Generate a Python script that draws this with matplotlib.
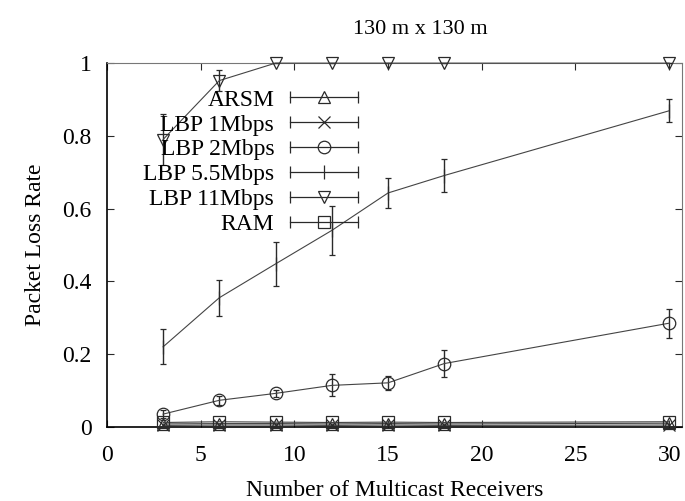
import matplotlib
matplotlib.use('Agg')
import matplotlib.pyplot as plt
from matplotlib.lines import Line2D
from matplotlib.legend_handler import HandlerLine2D, HandlerTuple

plt.rcParams['font.family'] = ['Liberation Serif', 'DejaVu Serif']
plt.rcParams['font.size'] = 17

receivers = [3, 6, 9, 12, 15, 18, 30]

arsm = [0.008, 0.009, 0.009, 0.008, 0.009, 0.008, 0.010]
lbp1 = [0.004, 0.005, 0.005, 0.004, 0.005, 0.004, 0.005]
lbp2 = [0.035, 0.073, 0.092, 0.114, 0.121, 0.174, 0.285]
lbp2_err = [0.010, 0.012, 0.010, 0.030, 0.020, 0.036, 0.040]
lbp55 = [0.220, 0.355, 0.448, 0.540, 0.643, 0.691, 0.869]
lbp55_err = [0.048, 0.050, 0.060, 0.068, 0.040, 0.045, 0.031]
lbp11 = [0.790, 0.952, 1.000, 1.000, 1.000, 1.000, 1.000]
lbp11_err = [0.070, 0.030, 0.000, 0.000, 0.000, 0.000, 0.000]
ram = [0.012, 0.014, 0.013, 0.012, 0.013, 0.012, 0.014]

labels = ['ARSM', 'LBP 1Mbps', 'LBP 2Mbps', 'LBP 5.5Mbps', 'LBP 11Mbps', 'RAM']
markers = ['^', 'x', 'o', '|', 'v', 's']
series = [arsm, lbp1, lbp2, lbp55, lbp11, ram]
errors = [None, None, lbp2_err, lbp55_err, lbp11_err, None]

ink = '#2a2a2a'
line_ink = '#444444'

fig = plt.figure(figsize=(6.85, 5.01), dpi=100)
ax = fig.add_axes([0.156, 0.148, 0.84, 0.726])

for y, err, m in zip(series, errors, markers):
    ax.errorbar(receivers, y, yerr=err, color=line_ink, lw=0.8, marker=m,
                markersize=9 if m != '|' else 10, mfc='none', mec=ink, mew=0.9,
                capsize=2.5, elinewidth=1.0, ecolor=ink, clip_on=False, zorder=3)

ax.set_xlim(0, 30.7)
ax.set_ylim(0, 1)
ax.set_xticks([0, 5, 10, 15, 20, 25, 30])
ax.set_yticks([0, 0.2, 0.4, 0.6, 0.8, 1])
ax.set_yticklabels(['0', '0.2', '0.4', '0.6', '0.8', '1'])
ax.tick_params(direction='in', top=True, right=True, length=5, width=0.8,
               pad=11, color=ink)
ax.tick_params(axis='x', pad=13)
for side, s in ax.spines.items():
    s.set_linewidth(1.2 if side in ('left', 'bottom') else 0.8)
    s.set_color('black' if side in ('left', 'bottom') else '#777777')

ax.set_xlabel('Number of Multicast Receivers', labelpad=10)
ax.set_ylabel('Packet Loss Rate', labelpad=12)
fig.text(420 / 685, 1 - 29 / 501, '130 m x 130 m', ha='center', va='center',
         fontsize=16)

# legend keys: series marker in the middle of a capped line
handles = []
hmap = {}
for m in markers:
    cap = Line2D([], [], color=ink, lw=0.9, marker='|', markersize=8, mew=0.9)
    mark = Line2D([], [], ls='none', marker=m, markersize=9 if m != '|' else 10,
                  mfc='none', mec=ink, mew=0.9)
    hmap[cap] = HandlerLine2D(numpoints=2, marker_pad=0)
    hmap[mark] = HandlerLine2D(numpoints=1)
    handles.append((cap, mark))
hmap[tuple] = HandlerTuple(ndivide=1)

ax.legend(handles, labels, handler_map=hmap, markerfirst=False, frameon=False,
          loc='center right', bbox_to_anchor=(358 / 685, 1 - 162 / 501),
          bbox_transform=fig.transFigure, borderpad=0, borderaxespad=0,
          handlelength=2.9, handletextpad=0.65, labelspacing=0.14)

fig.savefig('out.png', dpi=100)
